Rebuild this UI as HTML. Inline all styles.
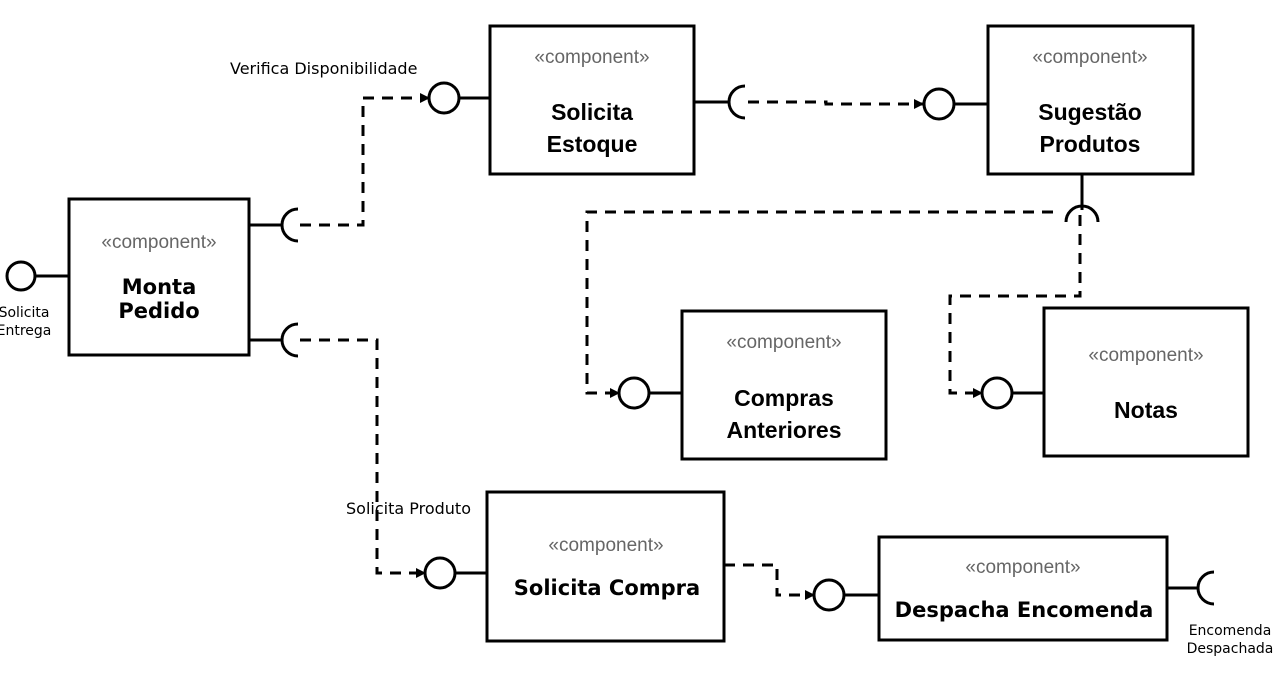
<!DOCTYPE html>
<html><head><meta charset="utf-8"><style>
body{margin:0;background:#fff}
svg{display:block}
.b{fill:#fff;stroke:#000;stroke-width:3}
.l{fill:none;stroke:#000;stroke-width:3}
.d{fill:none;stroke:#000;stroke-width:3;stroke-dasharray:11 8}
.st{font-family:"Liberation Sans",sans-serif;font-size:19px;fill:#666;text-anchor:middle}
.nm{font-family:"Liberation Sans",sans-serif;font-size:23px;font-weight:bold;text-anchor:middle}
.nv{font-family:"DejaVu Sans",sans-serif;font-size:21px;font-weight:bold;text-anchor:middle}
.lb{font-family:"DejaVu Sans",sans-serif;font-size:14px}
.lm{font-family:"DejaVu Sans",sans-serif;font-size:16px}
</style></head><body>
<svg width="1280" height="690" viewBox="0 0 1280 690">
<defs><marker id="ar" markerWidth="10" markerHeight="10" refX="9" refY="5" orient="auto" markerUnits="userSpaceOnUse"><path d="M0,0 L10,5 L0,10z"/></marker></defs>

<g>
<rect class="b" x="69" y="199" width="180" height="156"/>
<text class="st" x="159" y="248">«component»</text>
<text class="nv" x="159" y="294">Monta</text><text class="nv" x="159" y="318">Pedido</text></g>
<g>
<rect class="b" x="490" y="26" width="204" height="148"/>
<text class="st" x="592" y="63">«component»</text>
<text class="nm" x="592" y="120">Solicita</text><text class="nm" x="592" y="152">Estoque</text></g>
<g>
<rect class="b" x="988" y="26" width="205" height="148"/>
<text class="st" x="1090" y="63">«component»</text>
<text class="nm" x="1090" y="120">Sugestão</text><text class="nm" x="1090" y="152">Produtos</text></g>
<g>
<rect class="b" x="682" y="311" width="204" height="148"/>
<text class="st" x="784" y="348">«component»</text>
<text class="nm" x="784" y="406">Compras</text><text class="nm" x="784" y="438">Anteriores</text></g>
<g>
<rect class="b" x="1044" y="308" width="204" height="148"/>
<text class="st" x="1146" y="361">«component»</text>
<text class="nm" x="1146" y="418">Notas</text></g>
<g>
<rect class="b" x="487" y="492" width="237" height="149"/>
<text class="st" x="606" y="551">«component»</text>
<text class="nv" x="607" y="595">Solicita Compra</text></g>
<g>
<rect class="b" x="879" y="537" width="288" height="103"/>
<text class="st" x="1023" y="573">«component»</text>
<text class="nv" x="1024" y="617">Despacha Encomenda</text></g>

<g>
<circle class="l" cx="21" cy="276" r="14"/><line class="l" x1="35" y1="276" x2="69" y2="276"/>
<line class="l" x1="249" y1="225" x2="282" y2="225"/><path class="l" d="M298,209 A16,16 0 0 0 298,241"/>
<line class="l" x1="249" y1="340" x2="282" y2="340"/><path class="l" d="M298,324 A16,16 0 0 0 298,356"/>
<path class="d" d="M300,225 H363 V98 H429" marker-end="url(#ar)"/>
<path class="d" d="M300,340 H377 V573 H425" marker-end="url(#ar)"/>
<circle class="l" cx="444" cy="98" r="15"/><line class="l" x1="459" y1="98" x2="490" y2="98"/>
<circle class="l" cx="440" cy="573" r="15"/><line class="l" x1="455" y1="573" x2="487" y2="573"/>
<line class="l" x1="694" y1="102" x2="729" y2="102"/><path class="l" d="M745,86 A16,16 0 0 0 745,118"/>
<path class="d" d="M748,102 H826 V104 H923" marker-end="url(#ar)"/>
<circle class="l" cx="939" cy="104" r="15"/><line class="l" x1="954" y1="104" x2="988" y2="104"/>
<line class="l" x1="1082" y1="174" x2="1082" y2="210"/><path class="l" d="M1066,222 A16,16 0 0 1 1098,222"/>
<path class="d" d="M1053,212 H587 V393 H619" marker-end="url(#ar)"/>
<path class="d" d="M1080,215 V296 H950 V393 H982" marker-end="url(#ar)"/>
<circle class="l" cx="634" cy="393" r="15"/><line class="l" x1="649" y1="393" x2="682" y2="393"/>
<circle class="l" cx="997" cy="393" r="15"/><line class="l" x1="1012" y1="393" x2="1044" y2="393"/>
<path class="d" d="M724,565 H777 V595 H814" marker-end="url(#ar)"/>
<circle class="l" cx="829" cy="595" r="15"/><line class="l" x1="844" y1="595" x2="879" y2="595"/>
<line class="l" x1="1167" y1="588" x2="1198" y2="588"/><path class="l" d="M1214,572 A16,16 0 0 0 1214,604"/>
</g>

<text class="lb" x="24" y="317" text-anchor="middle"><tspan x="24">Solicita</tspan><tspan x="24" dy="18">Entrega</tspan></text>
<text class="lm" x="230" y="74">Verifica Disponibilidade</text>
<text class="lm" x="346" y="514">Solicita Produto</text>
<text class="lb" x="1230" y="635" text-anchor="middle"><tspan x="1230">Encomenda</tspan><tspan x="1230" dy="18">Despachada</tspan></text>
</svg>
</body></html>
